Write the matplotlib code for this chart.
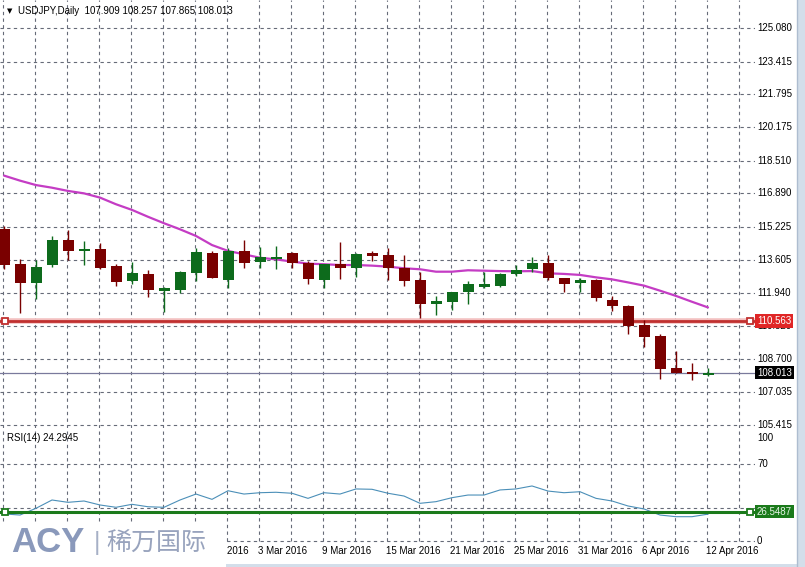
import matplotlib
matplotlib.use('Agg')
import matplotlib.pyplot as plt
from matplotlib.patches import Rectangle
from matplotlib.lines import Line2D

# ---------------- data ----------------
title_text = "USDJPY,Daily  107.909 108.257 107.865 108.013"
opens  = [115.13, 113.39, 112.44, 113.34, 114.57, 114.05, 114.13, 113.29, 112.56, 112.90,
          112.07, 112.10, 112.96, 113.92, 112.60, 114.03, 113.48, 113.65, 113.95, 113.43,
          112.60, 113.39, 113.18, 113.92, 113.84, 113.18, 112.60, 111.40, 111.52, 111.99,
          112.27, 112.32, 112.88, 113.14, 113.43, 112.68, 112.44, 112.60, 111.61, 111.31,
          110.37, 109.83, 108.23, 107.99, 107.909]
highs  = [115.27, 113.62, 113.59, 114.79, 115.06, 114.53, 114.42, 113.39, 113.50, 113.08,
          112.27, 113.04, 114.17, 114.03, 114.17, 114.58, 114.25, 114.30, 113.97, 113.54,
          113.40, 114.50, 113.92, 114.05, 114.17, 113.84, 113.01, 111.82, 112.02, 112.55,
          112.98, 112.96, 113.34, 113.75, 113.84, 112.70, 112.68, 112.65, 111.82, 111.36,
          110.62, 109.91, 109.10, 108.47, 108.257]
lows   = [113.14, 110.98, 111.64, 113.26, 113.59, 113.34, 113.15, 112.32, 112.39, 111.77,
          111.03, 111.94, 112.56, 112.68, 112.19, 113.21, 113.18, 113.13, 113.21, 112.40,
          112.22, 112.63, 112.76, 113.54, 112.60, 112.32, 110.70, 110.86, 111.11, 111.40,
          112.19, 112.27, 112.81, 113.01, 112.60, 111.99, 112.02, 111.57, 111.06, 109.92,
          109.30, 107.70, 107.99, 107.65, 107.865]
closes = [113.34, 112.44, 113.24, 114.58, 114.05, 114.10, 113.21, 112.51, 112.96, 112.12,
          112.19, 112.98, 113.97, 112.71, 114.03, 113.46, 113.72, 113.72, 113.46, 112.63,
          113.38, 113.21, 113.87, 113.79, 113.18, 112.56, 111.40, 111.56, 111.99, 112.39,
          112.39, 112.90, 113.09, 113.43, 112.71, 112.40, 112.60, 111.69, 111.33, 110.33,
          109.79, 108.19, 108.01, 107.97, 108.013]
ma_values = [117.77, 117.52, 117.30, 117.17, 117.01, 116.89, 116.68, 116.35, 116.07, 115.73,
             115.41, 115.11, 114.78, 114.33, 114.04, 113.87, 113.70, 113.62, 113.51, 113.41,
             113.38, 113.34, 113.34, 113.31, 113.26, 113.18, 113.13, 113.01, 113.01, 113.08,
             113.06, 113.04, 113.03, 113.04, 112.93, 112.90, 112.85, 112.73, 112.63, 112.48,
             112.32, 112.07, 111.81, 111.52, 111.24]
rsi_values = [24.5, 23.5, 29.6, 37.1, 35.0, 36.2, 32.6, 30.5, 33.2, 31.0,
              30.5, 37.1, 42.5, 37.7, 45.5, 42.5, 43.7, 44.1, 43.2, 38.6,
              43.7, 42.5, 47.1, 46.8, 43.2, 40.7, 34.1, 35.6, 39.2, 41.6,
              41.6, 46.2, 47.1, 49.8, 45.2, 43.7, 44.6, 38.6, 36.2, 31.7,
              29.0, 23.5, 22.0, 22.0, 24.2945]
price_ticks = [125.080, 123.415, 121.795, 120.175, 118.510, 116.890, 115.225,
               113.605, 111.940, 110.320, 108.700, 107.035, 105.415]
date_tick_idx = [12, 16, 20, 24, 28, 32, 36, 40, 44]
date_tick_labels = ['26 Feb 2016', '3 Mar 2016', '9 Mar 2016', '15 Mar 2016', '21 Mar 2016',
                    '25 Mar 2016', '31 Mar 2016', '6 Apr 2016', '12 Apr 2016']
resistance_level = 110.563
bid_level = 108.013
rsi_hline = 26.5487
rsi_grid_levels = [70, 30, 0]
rsi_title = "RSI(14) 24.2945"

# ---------------- layout helpers (pixels) ----------------
W, H = 805, 567
fig = plt.figure(figsize=(W / 100, H / 100), dpi=100)
fig.patch.set_facecolor('white')
FONT = 'Liberation Sans'
FS = 7


def fx(px):
    return px / W


def fy(py):
    return 1 - py / H


PLOT_R = 755            # right edge of plotting area (px)
PX_PER_BAR = 16.0
X0 = 4.0                # px of bar 0
xl = (-X0 / PX_PER_BAR, (PLOT_R - X0) / PX_PER_BAR)

# main panel: px 0..428, price 125.08 at px 28, 20.19 px per yen
ppy = 20.19
main_top, main_bot = 0, 428
ylim_main = (125.08 - (main_bot - 28) / ppy, 125.08 + 28 / ppy)
ax = fig.add_axes([0, fy(main_bot), fx(PLOT_R), (main_bot - main_top) / H])
ax.set_xlim(*xl)
ax.set_ylim(*ylim_main)
ax.axis('off')

# rsi panel: 100 at px 431, 0 at px 541
rsi_top, rsi_bot = 429, 546
k = 1.105
ylim_rsi = ((541 - rsi_bot) / k, (541 - rsi_top) / k)
ax2 = fig.add_axes([0, fy(rsi_bot), fx(PLOT_R), (rsi_bot - rsi_top) / H])
ax2.set_xlim(*xl)
ax2.set_ylim(*ylim_rsi)
ax2.axis('off')

grid_kw = dict(color='#666b78', lw=0.8, dashes=(3, 3), zorder=0.5)

# vertical grid
n = len(opens)
for gi in range(0, 48, 2):
    gx = gi - 0.06
    ax.axvline(gx, **grid_kw)
    ax2.plot([gx, gx], [0, ylim_rsi[1]], **grid_kw)

# horizontal grid main + labels
lab_x = (757 - X0) / PX_PER_BAR
for p in price_ticks:
    ax.axhline(p, **grid_kw)
    ax.text(lab_x, p, f"{p:.3f}", ha='left', va='center', fontsize=FS,
            family=FONT, color='black', clip_on=False)

# rsi grid + labels
for lv in rsi_grid_levels:
    ax2.axhline(lv, **grid_kw)
fig.text(fx(757), fy(438), "100", ha='left', va='center', fontsize=FS, family=FONT)
ax2.text(lab_x, 70, "70", ha='left', va='center', fontsize=FS, family=FONT, clip_on=False)
ax2.text(lab_x, 0, "0", ha='left', va='center', fontsize=FS, family=FONT, clip_on=False)

# moving average
ax.plot(range(n), ma_values, color='#c43cc4', lw=1.6, zorder=3, solid_capstyle='round')

# bid line
ax.axhline(bid_level, color='#7a7a9c', lw=0.9, zorder=2)
ax.text(lab_x, bid_level, f"{bid_level:.3f}", ha='left', va='center', fontsize=FS,
        family=FONT, color='white', clip_on=False, zorder=10,
        bbox=dict(boxstyle='square,pad=0.18', fc='black', ec='none'))

# candles
bull_c, bear_c = '#0d6b1c', '#7a0000'
bw = 11 / PX_PER_BAR
for i in range(n):
    o, h, l, c = opens[i], highs[i], lows[i], closes[i]
    col = bull_c if c >= o else bear_c
    ax.plot([i, i], [l, h], color=col, lw=1.0, zorder=4, solid_capstyle='butt')
    lo, hi = min(o, c), max(o, c)
    hgt = max(hi - lo, 0.09)
    ax.add_patch(Rectangle((i - bw / 2, (lo + hi) / 2 - hgt / 2), bw, hgt,
                           facecolor=col, edgecolor='none', zorder=5))

# resistance line
ax.axhline(resistance_level, color='#f3c0c0', lw=4.0, zorder=2)
ax.axhline(resistance_level, color='#c0302f', lw=2.0, zorder=2.1)
for xm in [(5 - X0) / PX_PER_BAR, (750 - X0) / PX_PER_BAR]:
    ax.plot([xm], [resistance_level], marker='s', ms=4.5, mfc='white', mec='#c0302f',
            mew=1.3, zorder=6, clip_on=False)
ax.text(lab_x, resistance_level, f"{resistance_level:.3f}", ha='left', va='center',
        fontsize=FS, family=FONT, color='white', clip_on=False, zorder=10,
        bbox=dict(boxstyle='square,pad=0.18', fc='#e02626', ec='none'))

# RSI
ax2.plot(range(n), rsi_values, color='#4b8fb8', lw=0.8, zorder=3)
ax2.axhline(rsi_hline, color='#1b7a1b', lw=2.2, zorder=4)
for xm in [(5 - X0) / PX_PER_BAR, (750 - X0) / PX_PER_BAR]:
    ax2.plot([xm], [rsi_hline], marker='s', ms=4.5, mfc='white', mec='#1b7a1b',
             mew=1.3, zorder=6, clip_on=False)
ax2.text(lab_x, rsi_hline, f"{rsi_hline:.4f}", ha='left', va='center',
         fontsize=FS, family=FONT, color='#e8f5e8', clip_on=False, zorder=10,
         bbox=dict(boxstyle='square,pad=0.18', fc='#1b7a1b', ec='none'))

# titles
fig.text(fx(7), fy(11), '\u25bc', fontsize=5, family='DejaVu Sans', va='center', ha='left')
fig.text(fx(18), fy(11), title_text, fontsize=FS, family=FONT, va='center', ha='left')
fig.text(fx(7), fy(438), rsi_title, fontsize=FS, family=FONT, va='center', ha='left')

# date labels (the first one is partly hidden under the logo box)
clip_rect = Rectangle((fx(226), 0), fx(PLOT_R) - fx(226), 0.1, transform=fig.transFigure,
                      facecolor='none', edgecolor='none')
for idx, lab in zip(date_tick_idx, date_tick_labels):
    px = X0 + idx * PX_PER_BAR - 2
    t = fig.text(fx(px), fy(551), lab, fontsize=FS, family=FONT, va='center', ha='left')
    if px < 226:
        t.set_clip_path(clip_rect)

# window borders
fig.add_artist(Rectangle((fx(797), 0), fx(8), 1, transform=fig.transFigure,
                         facecolor='#d3deea', edgecolor='none', zorder=20))
fig.add_artist(Line2D([fx(797), fx(797)], [0, 1], transform=fig.transFigure,
                      color='#aebdd0', lw=1, zorder=21))
fig.add_artist(Rectangle((0, 0), 1, 3 / H, transform=fig.transFigure,
                         facecolor='#d3deea', edgecolor='none', zorder=20))

# logo box
fig.add_artist(Rectangle((0, 0), fx(226), (H - 522) / H, transform=fig.transFigure,
                         facecolor='white', edgecolor='none', zorder=30))
fig.text(fx(11), fy(543), 'ACY', fontsize=25, family=FONT, weight='bold',
         color='#8a99bb', va='center', ha='left', zorder=31)
fig.text(fx(94), fy(543), '|', fontsize=18, family=FONT,
         color='#a6b0c6', va='center', ha='left', zorder=31)
fig.text(fx(106), fy(543), '稀万国际', fontsize=18, family=['Noto Sans CJK SC', 'DejaVu Sans'],
         color='#98a3bd', va='center', ha='left', zorder=31)

fig.savefig('out.png', dpi=100, facecolor='white')
